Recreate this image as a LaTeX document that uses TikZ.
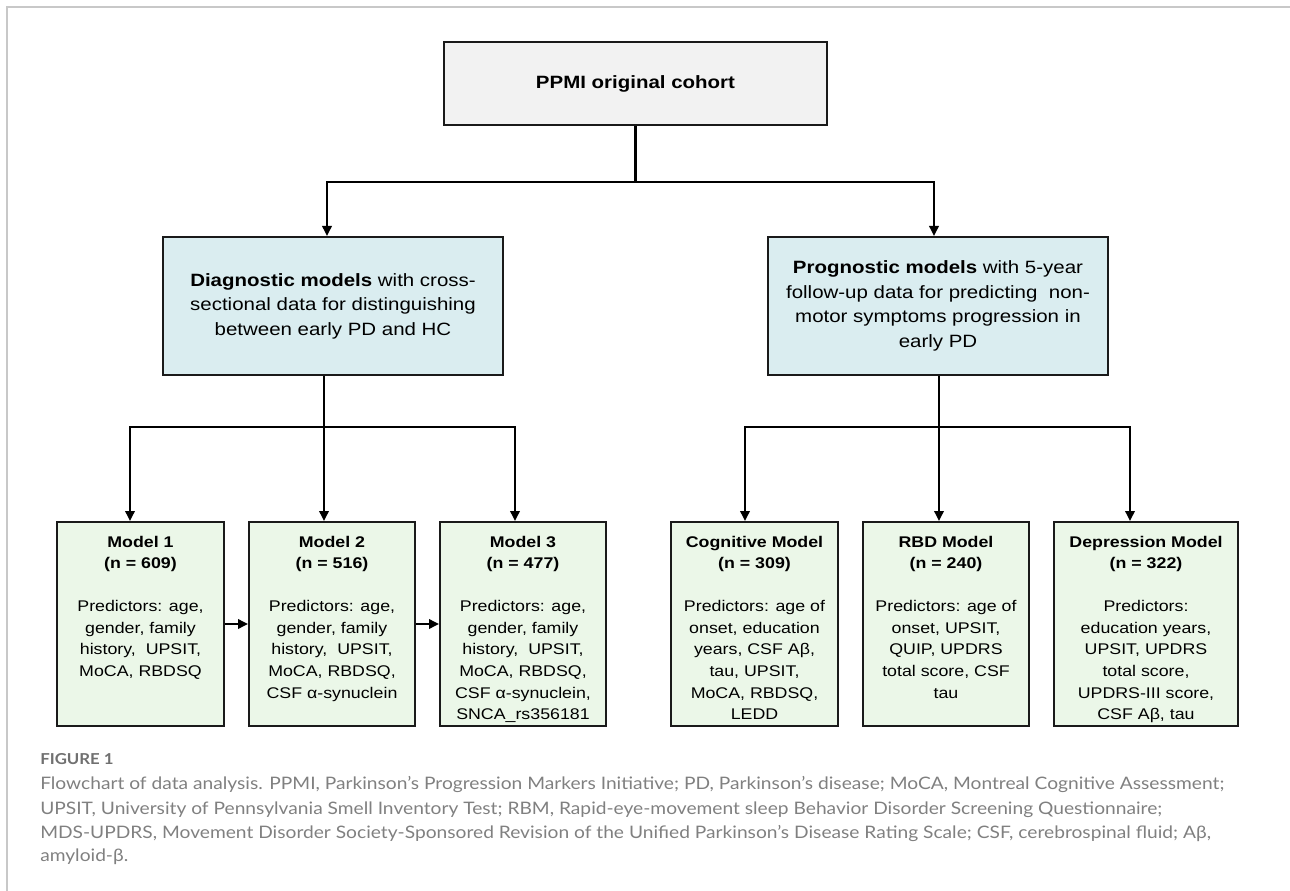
\documentclass[tikz,border=0pt]{standalone}
\usepackage{fontspec}
\setmainfont{Liberation Sans}
\newfontfamily\boxfont[FakeStretch=1.15]{Liberation Sans}
\newfontfamily\capfont[FakeStretch=1.115]{Lato}
\usetikzlibrary{arrows.meta,calc}
\definecolor{topfill}{HTML}{F2F2F2}
\definecolor{midfill}{HTML}{DAEDF0}
\definecolor{botfill}{HTML}{EBF7E8}
\definecolor{edgecol}{HTML}{1A1A1A}
\definecolor{framegray}{HTML}{C8C8C8}
\definecolor{capgray}{HTML}{808080}
\definecolor{figgray}{HTML}{707070}
\newcommand\mtext[2]{\parbox[c][153pt][t]{#1}{\centering\boxfont\fontsize{11.6pt}{16.2pt}\selectfont\rule{0pt}{18.75pt}#2\par}}
\begin{document}
\begin{tikzpicture}[x=0.75pt,y=-0.75pt,
  basebox/.style={draw=edgecol, line width=1.5pt, inner sep=0pt, rectangle},
  topbox/.style={basebox, fill=topfill, minimum width=383*0.75pt, minimum height=83*0.75pt,
     font=\boxfont\fontsize{13.35pt}{18.4pt}\selectfont\bfseries},
  midbox/.style={basebox, fill=midfill, minimum width=340*0.75pt, minimum height=138*0.75pt, align=center,
     font=\boxfont\fontsize{13.35pt}{18.4pt}\selectfont},
  botbox/.style={basebox, fill=botfill},
  conn/.style={draw=black, line width=1.8pt},
  arr/.style={conn, -{Triangle[width=7pt,length=7.5pt]}},
  capstyle/.style={anchor=base west, inner sep=0pt, text=capgray, font=\capfont\fontsize{12.9pt}{18pt}\selectfont},
]
\useasboundingbox (0,0) rectangle (1290,891);
\draw[framegray, line width=1.1pt] (7,891) -- (7,7) -- (1290,7);

% boxes
\node[topbox] (top) at (635.5,83.5) {PPMI original cohort};
\node[midbox] (diag) at (333,306) {\textbf{Diagnostic models} with cross-\\sectional data for distinguishing\\between early PD and HC};
\node[midbox] (prog) at (938,306) {\textbf{Prognostic models} with 5-year\\follow-up data for predicting\ \ non-\\motor symptoms progression in\\early PD};

\node[botbox] (m1) at (140.5,624) {\mtext{125.25pt}{{\bfseries Model 1\\(n = 609)}\\[16.2pt]Predictors: age,\\gender, family\\history,\ \ UPSIT,\\MoCA, RBDSQ}};
\node[botbox] (m2) at (332,624) {\mtext{124.5pt}{{\bfseries Model 2\\(n = 516)}\\[16.2pt]Predictors: age,\\gender, family\\history,\ \ UPSIT,\\MoCA, RBDSQ,\\CSF α-synuclein}};
\node[botbox] (m3) at (523,624) {\mtext{124.5pt}{{\bfseries Model 3\\(n = 477)}\\[16.2pt]Predictors: age,\\gender, family\\history,\ \ UPSIT,\\MoCA, RBDSQ,\\CSF α-synuclein,\\SNCA\_rs356181}};
\node[botbox] (cog) at (754.5,624) {\mtext{125.25pt}{{\bfseries Cognitive Model\\(n = 309)}\\[16.2pt]Predictors: age of\\onset, education\\years, CSF Aβ,\\tau, UPSIT,\\MoCA, RBDSQ,\\LEDD}};
\node[botbox] (rbd) at (946,624) {\mtext{124.5pt}{{\bfseries RBD Model\\(n = 240)}\\[16.2pt]Predictors: age of\\onset, UPSIT,\\QUIP, UPDRS\\total score, CSF\\tau}};
\node[botbox] (dep) at (1146,624) {\mtext{138pt}{{\bfseries Depression Model\\(n = 322)}\\[16.2pt]Predictors:\\education years,\\UPSIT, UPDRS\\total score,\\UPDRS-III score,\\CSF Aβ, tau}};

% connectors
\coordinate (jt) at (635.5,182);
\draw[conn] (top.south) -- (jt);
\draw[arr] (jt) -| ($(diag.north)+(-6,0)$);
\draw[arr] (jt) -| ($(prog.north)+(-4,0)$);

\coordinate (jd) at (324,427);
\draw[conn] ($(diag.south)+(-9,0)$) -- (jd);
\draw[arr] (jd) -| ($(m1.north)+(-10.5,0)$);
\draw[arr] (jd) -- ($(m2.north)+(-8,0)$);
\draw[arr] (jd) -| ($(m3.north)+(-8,0)$);

\coordinate (jp) at (939,427);
\draw[conn] ($(prog.south)+(1,0)$) -- (jp);
\draw[arr] (jp) -| ($(cog.north)+(-9.5,0)$);
\draw[arr] (jp) -- ($(rbd.north)+(-7,0)$);
\draw[arr] (jp) -| ($(dep.north)+(-16,0)$);

\draw[arr] (m1.east) -- (m2.west);
\draw[arr] (m2.east) -- (m3.west);

% caption
\node[anchor=base west, inner sep=0pt, text=figgray, font=\capfont\fontsize{11.3pt}{12pt}\selectfont\bfseries] (fig) at (40,764) {FIGURE 1};
\node[capstyle] (cap1) at (40,789) {Flowchart of data analysis. PPMI, Parkinson’s Progression Markers Initiative; PD, Parkinson’s disease; MoCA, Montreal Cognitive Assessment;};
\node[capstyle] (cap2) at (40,814) {UPSIT, University of Pennsylvania Smell Inventory Test; RBM, Rapid-eye-movement sleep Behavior Disorder Screening Questionnaire;};
\node[capstyle] (cap3) at (40,838) {MDS-UPDRS, Movement Disorder Society-Sponsored Revision of the Unified Parkinson’s Disease Rating Scale; CSF, cerebrospinal fluid; Aβ,};
\node[capstyle] (cap4) at (40,861) {amyloid-β.};
\end{tikzpicture}
\end{document}
